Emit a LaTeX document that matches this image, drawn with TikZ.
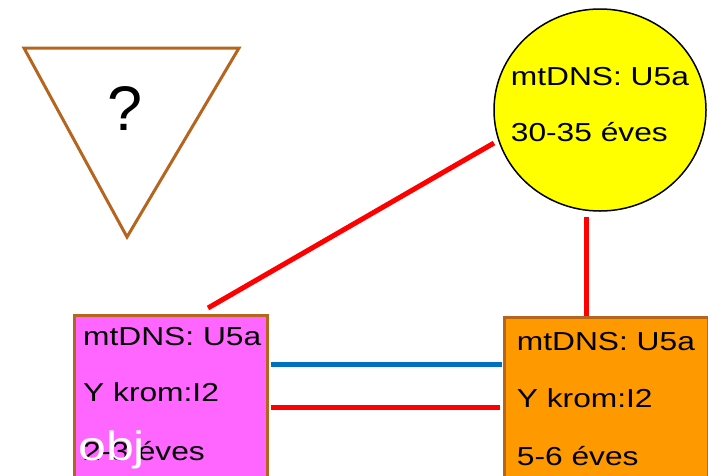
\documentclass[tikz,border=0pt]{standalone}
\usepackage{fontspec}
\setmainfont{Liberation Sans}
\newfontfamily\arialx[FakeStretch=1.22]{Liberation Sans}
\usetikzlibrary{shapes.geometric,calc}
\definecolor{brownb}{RGB}{181,101,29}
\definecolor{pinkf}{RGB}{255,102,255}
\definecolor{orangef}{RGB}{255,153,0}
\definecolor{yellowf}{RGB}{255,255,0}
\definecolor{redl}{RGB}{255,0,0}
\definecolor{bluel}{RGB}{0,112,192}
\tikzset{
  lbl/.style={anchor=base west, inner sep=0pt, font=\arialx\fontsize{26}{30}\selectfont},
  boxP/.style={draw=brownb, line width=3pt, fill=pinkf, rectangle, anchor=north west, minimum width=193pt, minimum height=200pt, inner sep=0pt},
  boxO/.style={draw=brownb, line width=3pt, fill=orangef, rectangle, anchor=north west, minimum width=204pt, minimum height=200pt, inner sep=0pt},
  redline/.style={draw=redl, line width=5pt},
  blueline/.style={draw=bluel, line width=5pt},
}
\begin{document}
\begin{tikzpicture}[x=1pt,y=-1pt]
\useasboundingbox (0,0) rectangle (708,475);
\clip (0,0) rectangle (708,475);
% triangle
\draw[brownb, line width=3pt, line join=miter] (24,48) -- (239,48) -- (127,237) -- cycle;
\node[inner sep=0pt, font=\fontsize{63}{70}\selectfont] (q) at (125,108) {?};
% circle
\node[ellipse, draw=black, line width=1.5pt, fill=yellowf, minimum width=212pt, minimum height=202pt, inner sep=0pt] (C) at (600,110) {};
\node[lbl] (c1) at (510.7,85) {mtDNS: U5a};
\node[lbl] (c2) at (510.7,141.7) {30-35 éves};
% pink box
\node[boxP] (P) at (73,314) {};
\node[lbl] (p1) at (83,345.7) {mtDNS: U5a};
\node[lbl] (p2) at (83,401.7) {Y krom:I2};
\node[lbl] (p3) at (83,460) {2-3 éves};
\node[anchor=base west, inner sep=0pt, text=white, font=\arialx\fontsize{41}{45}\selectfont] (obj) at (78,460) {obj};
% orange box
\node[boxO] (O) at (503,316) {};
\node[lbl] (o1) at (516.7,350.7) {mtDNS: U5a};
\node[lbl] (o2) at (516.7,407.7) {Y krom:I2};
\node[lbl] (o3) at (516.7,465) {5-6 éves};
% connectors
\coordinate (cA) at ($(C.center)+(-106,33)$);
\coordinate (pA) at ($(P.north west)+(135,-6)$);
\draw[redline] (cA) -- (pA);
\coordinate (cB) at ($(C.south)+(-14,5)$);
\coordinate (oB) at ($(O.north west)+(83,0)$);
\draw[redline] (cB) -- (oB);
\coordinate (pB) at ($(P.north east)+(2,50)$);
\coordinate (oC) at ($(O.north west)+(-1,48)$);
\draw[blueline] (pB) -- (oC);
\coordinate (pC) at ($(P.north east)+(2,93)$);
\coordinate (oD) at ($(O.north west)+(-3,91)$);
\draw[redline] (pC) -- (oD);
\end{tikzpicture}
\end{document}
